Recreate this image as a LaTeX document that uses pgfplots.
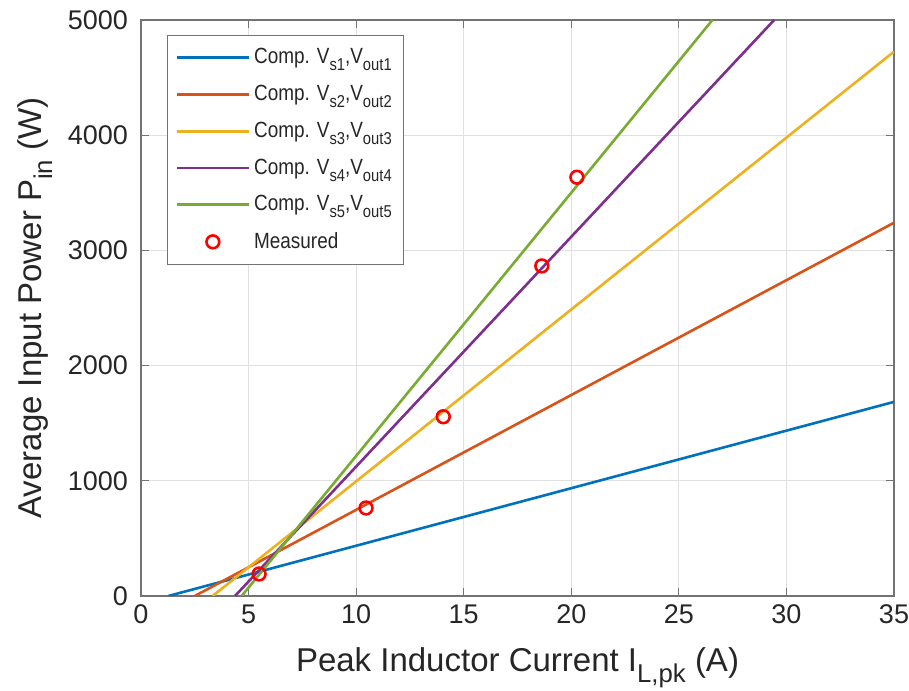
\documentclass[border=0pt]{standalone}
\usepackage{fontspec}
\setmainfont{Liberation Sans}
\usepackage{pgfplots}
\pgfplotsset{compat=1.18}
\definecolor{mblue}{rgb}{0,0.447,0.741}
\definecolor{morange}{rgb}{0.85,0.325,0.098}
\definecolor{myellow}{rgb}{0.929,0.694,0.125}
\definecolor{mpurple}{rgb}{0.494,0.184,0.556}
\definecolor{mgreen}{rgb}{0.466,0.674,0.188}
\definecolor{txt}{rgb}{0.15,0.15,0.15}
\newcommand{\sub}[1]{\raisebox{-0.6ex}{\scalebox{0.78}{#1}}}
\newcommand{\leg}[1]{\scalebox{0.86}[1]{#1}}
\pgfplotsset{measleg/.style={legend image code/.code={\draw[mark repeat=2,mark phase=2,##1] plot coordinates {(0pt,0pt) (18pt,0pt) (36pt,0pt)};}}}
\begin{document}
\begin{tikzpicture}
\begin{axis}[
  scale only axis,
  width=376.5pt, height=288pt,
  xmin=0, xmax=35, ymin=0, ymax=5000,
  xtick={0,5,...,35}, ytick={0,1000,...,5000},
  grid=major,
  major grid style={draw=black!12, line width=0.5pt},
  axis line style={draw=black!55, line width=0.8pt},
  tick style={draw=black!55, line width=0.6pt},
  tick align=inside,
  major tick length=4pt,
  /pgf/number format/assume math mode=true,
  /pgf/number format/1000 sep={},
  tick label style={font=\fontsize{13.5}{16}\selectfont, text=txt},
  xticklabel style={yshift=-1pt},
  yticklabel style={xshift=-3pt},
  xlabel={Peak Inductor Current I\sub{L,pk} (A)},
  ylabel={Average Input Power P\sub{in} (W)},
  every axis y label/.style={at={(axis description cs:-0.1408,0.5)},rotate=90,anchor=center,
    font=\fontsize{16.5}{19}\selectfont, text=txt},
  every axis x label/.style={at={(axis description cs:0.5,0)},anchor=north,yshift=-22.5pt,
    font=\fontsize{16.5}{19}\selectfont, text=txt},
  legend cell align=left,
  legend style={at={(axis description cs:0.0345,0.974)}, anchor=north west,
    draw=black!55, fill=white, line width=0.6pt,
    font=\fontsize{11}{13}\selectfont, text=txt,
    row sep=5.2pt, inner xsep=4pt, inner ysep=4.5pt},
  legend image code/.code={\draw[#1] (0pt,0pt) -- (36pt,0pt);},
]
\addplot[mblue, line width=1.3pt] coordinates {(1.27,0) (35,1685)};
\addlegendentry{\leg{Comp. V\sub{s1},V\sub{out1}}}
\addplot[morange, line width=1.3pt] coordinates {(2.5,0) (35,3240)};
\addlegendentry{\leg{Comp. V\sub{s2},V\sub{out2}}}
\addplot[myellow, line width=1.3pt] coordinates {(3.33,0) (35,4725)};
\addlegendentry{\leg{Comp. V\sub{s3},V\sub{out3}}}
\addplot[mpurple, line width=1.3pt] coordinates {(4.37,0) (29.43,5000)};
\addlegendentry{\leg{Comp. V\sub{s4},V\sub{out4}}}
\addplot[mgreen, line width=1.3pt] coordinates {(4.68,0) (26.56,5000)};
\addlegendentry{\leg{Comp. V\sub{s5},V\sub{out5}}}
\addplot[only marks, mark=o, mark size=3.2pt, red, line width=1.3pt, measleg]
  coordinates {(5.49,191) (10.46,764) (14.05,1556) (18.63,2865) (20.26,3635)};
\addlegendentry{\leg{Measured}}
\end{axis}
\pgfresetboundingbox
\path[use as bounding box] ([shift={(-70.5pt,-47.5pt)}]current axis.south west) rectangle ([shift={(7.5pt,10pt)}]current axis.north east);
\end{tikzpicture}
\end{document}
